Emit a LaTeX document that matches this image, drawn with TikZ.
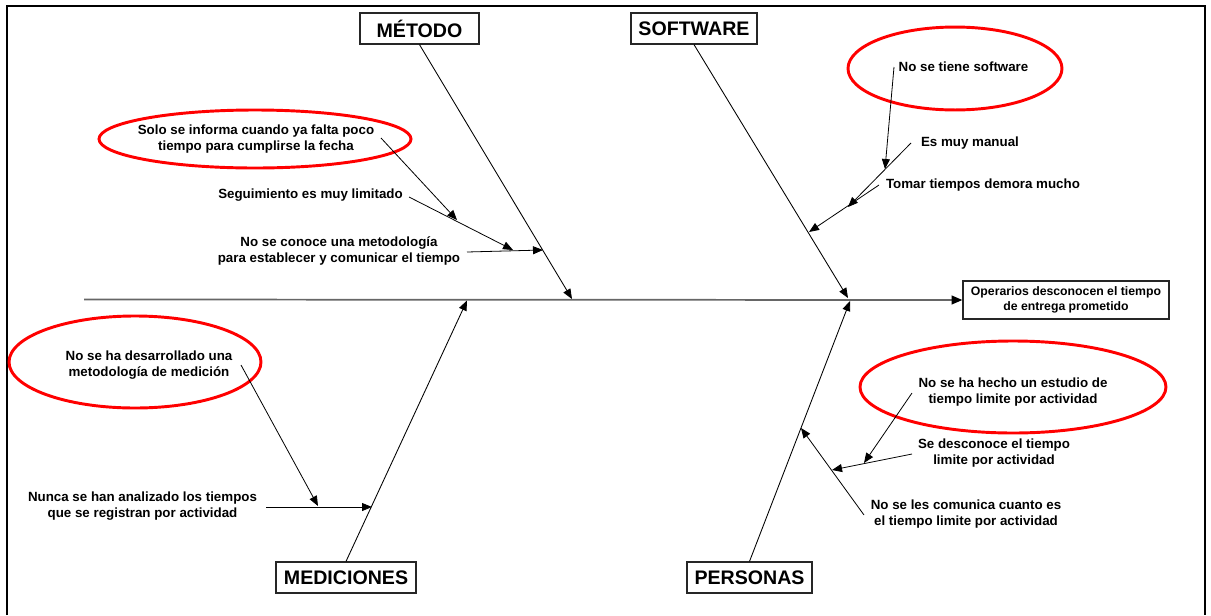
\documentclass[tikz,border=0pt]{standalone}
\usepackage{fontspec}
\setmainfont{Liberation Sans}
\usetikzlibrary{arrows.meta}
\begin{document}
\begin{tikzpicture}[x=0.75pt,y=-0.75pt,
  cat/.style={draw=black!85, line width=0.9pt, fill=white, inner sep=0pt,
    minimum height=31*0.75pt, font=\bfseries\fontsize{14.7}{17}\selectfont},
  effect/.style={draw=black!85, line width=0.9pt, fill=white, inner sep=0pt,
    align=center, minimum width=206*0.75pt, minimum height=38*0.75pt,
    font=\bfseries\fontsize{9.2}{11.5}\selectfont},
  cause/.style={align=center, inner sep=0pt, font=\bfseries\fontsize{10}{12}\selectfont},
  redring/.style={draw=red, line width=2.2pt},
  arr/.style={-{Triangle[length=7.5pt,width=6pt]}, line width=0.6pt},
  bone/.style={arr, line width=0.65pt},
  spine/.style={-{Triangle[length=8pt,width=6.5pt,color=black]}, line width=1.3pt, draw=black!60}]
\useasboundingbox (0,0) rectangle (1211,615);

% outer frame, open at the bottom
\draw[line width=1.6pt] (7,615) -- (7,6) -- (1205,6) -- (1205,615);

% red highlight rings
\draw[redring] (255,139) ellipse [x radius=117pt, y radius=21.75pt];
\draw[redring] (955,68.5) ellipse [x radius=80.25pt, y radius=31.1pt];
\draw[redring] (135,362) ellipse [x radius=94.5pt, y radius=34.5pt];
\draw[redring] (1013,387) ellipse [x radius=114.75pt, y radius=34.5pt];

% effect and spine
\node[effect] (eff) at (1066,300) {Operarios desconocen el tiempo\\de entrega prometido};
\coordinate (tail) at (84,299.5);
\draw[spine] (tail) -- (eff.west);

% category boxes
\node[cat, minimum width=119*0.75pt] (met) at (419.5,28.5) {MÉTODO};
\node[cat, minimum width=126*0.75pt] (sw) at (694,28.5) {SOFTWARE};
\node[cat, minimum width=140*0.75pt] (med) at (346,577.5) {MEDICIONES};
\node[cat, minimum width=125*0.75pt] (per) at (749.5,577.5) {PERSONAS};

% main bones
\coordinate (metE) at (572,299);
\coordinate (swE) at (848,298);
\coordinate (medE) at (467,300.5);
\coordinate (perE) at (850,301);
\draw[bone] (met.south) -- (metE);
\draw[bone] (sw.south) -- (swE);
\draw[bone] (med.north) -- (medE);
\draw[bone] (per.north) -- (perE);

% causes: MÉTODO
\node[cause] (c1) at (256,139) {Solo se informa cuando ya falta poco\\tiempo para cumplirse la fecha};
\node[cause] (c2) at (310.5,195) {Seguimiento es muy limitado};
\node[cause] (c3) at (339,250.5) {No se conoce una metodología\\para establecer y comunicar el tiempo};
\coordinate (c1s) at (381,138);  \coordinate (c1e) at (457,220);
\coordinate (c2s) at (409,197);  \coordinate (c2e) at (513,250);
\coordinate (c3s) at (467,252);  \coordinate (c3e) at (543,250);
\draw[arr] (c1s) -- (c1e);
\draw[arr] (c2s) -- (c2e);
\draw[arr] (c3s) -- (c3e);

% causes: SOFTWARE
\node[cause] (s1) at (963.5,67) {No se tiene software};
\node[cause] (s2) at (970,143) {Es muy manual};
\node[cause] (s3) at (983,185) {Tomar tiempos demora mucho};
\coordinate (s1s) at (894,67);   \coordinate (s1e) at (885,169);
\coordinate (s2s) at (911,143);  \coordinate (s2e) at (848,207);
\coordinate (s3s) at (879,185);  \coordinate (s3e) at (809,232);
\draw[arr] (s1s) -- (s1e);
\draw[arr] (s2s) -- (s2e);
\draw[arr] (s3s) -- (s3e);

% causes: MEDICIONES
\node[cause] (d1) at (149,365) {No se ha desarrollado una\\metodología de medición};
\node[cause] (d2) at (142.5,506.5) {Nunca se han analizado los tiempos\\que se registran por actividad};
\coordinate (d1s) at (241,365);  \coordinate (d1e) at (318,506);
\coordinate (d2s) at (266,507);  \coordinate (d2e) at (372,507);
\draw[arr] (d1s) -- (d1e);
\draw[arr] (d2s) -- (d2e);

% causes: PERSONAS
\node[cause] (p1) at (1013,392) {No se ha hecho un estudio de\\tiempo limite por actividad};
\node[cause] (p2) at (994,453.5) {Se desconoce el tiempo\\limite por actividad};
\node[cause] (p3) at (966,514.5) {No se les comunica cuanto es\\el tiempo limite por actividad};
\coordinate (p1s) at (912,393);  \coordinate (p1e) at (864,463);
\coordinate (p2s) at (912,454);  \coordinate (p2e) at (832,470);
\coordinate (p3s) at (864,515);  \coordinate (p3e) at (801,428);
\draw[arr] (p1s) -- (p1e);
\draw[arr] (p2s) -- (p2e);
\draw[arr] (p3s) -- (p3e);
\end{tikzpicture}
\end{document}
